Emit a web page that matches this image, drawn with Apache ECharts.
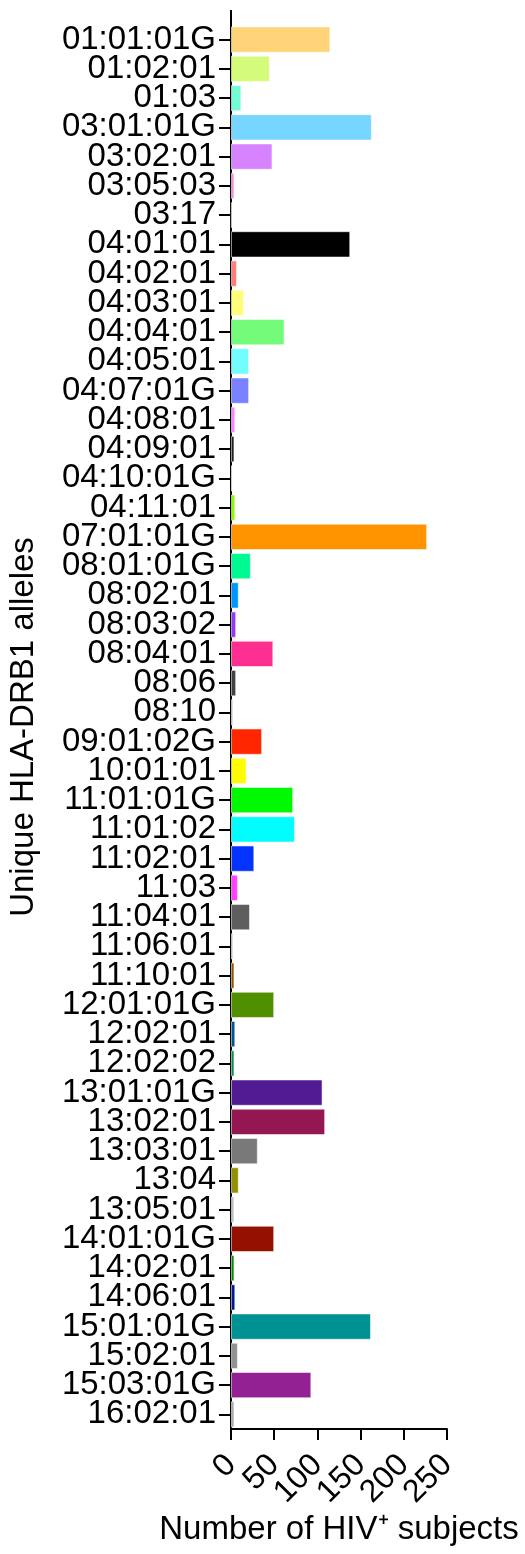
<!DOCTYPE html>
<html>
<head>
<meta charset="utf-8">
<script src="https://cdn.jsdelivr.net/npm/echarts@6/dist/echarts.min.js"></script>
<style>
  html, body { margin: 0; padding: 0; background: #fff; }
  #chart { width: 525px; height: 1554px; }
</style>
</head>
<body>
<div id="chart"></div>
<script>
// HLA-DRB1 alleles found among HIV+ subjects
const alleles = [
  '01:01:01G', '01:02:01', '01:03', '03:01:01G', '03:02:01', '03:05:03', '03:17',
  '04:01:01', '04:02:01', '04:03:01', '04:04:01', '04:05:01', '04:07:01G', '04:08:01',
  '04:09:01', '04:10:01G', '04:11:01', '07:01:01G', '08:01:01G', '08:02:01', '08:03:02',
  '08:04:01', '08:06', '08:10', '09:01:02G', '10:01:01', '11:01:01G', '11:01:02',
  '11:02:01', '11:03', '11:04:01', '11:06:01', '11:10:01', '12:01:01G', '12:02:01',
  '12:02:02', '13:01:01G', '13:02:01', '13:03:01', '13:04', '13:05:01', '14:01:01G',
  '14:02:01', '14:06:01', '15:01:01G', '15:02:01', '15:03:01G', '16:02:01'
];

// Number of subjects carrying each allele
const subjects = [
  115, 45, 12, 163, 48, 4, 1,
  138, 7, 15, 62, 21, 21, 5,
  4, 2, 5, 227, 23, 9, 6,
  49, 6, 3, 36, 18, 72, 74,
  27, 8, 22, 3, 4, 50, 5,
  4, 106, 109, 31, 9, 4, 50,
  4, 5, 162, 8, 93, 4
];

// One fill colour per allele
const barColors = [
  '#FFD479', '#D4FB79', '#73FCD6', '#76D6FF', '#D783FF', '#FF8AD8', '#FFFFFF',
  '#000000', '#FF7E79', '#FFFC79', '#73FA79', '#73FDFF', '#7A81FF', '#FF85FF',
  '#212121', '#EBEBEB', '#8EFA00', '#FF9300', '#00FA92', '#0096FF', '#9437FF',
  '#FF2F92', '#424242', '#D6D6D6', '#FF2600', '#FFFB00', '#00F900', '#00FDFF',
  '#0433FF', '#FF40FF', '#5E5E5E', '#D6D6D6', '#945200', '#4F8F00', '#005493',
  '#009051', '#531B93', '#941751', '#797979', '#929000', '#C0C0C0', '#941100',
  '#008F00', '#011993', '#009193', '#929292', '#942193', '#A9A9A9'
];

// Tick values of the count axis
const xTicks = [0, 50, 100, 150, 200, 250];

const FONT = '"Liberation Sans", Arial, Helvetica, sans-serif';
const GRID = { left: 231, right: 78, top: 25, bottom: 125 };
const TICK_LABEL_GAP = 31;

const chart = echarts.init(document.getElementById('chart'), null, { renderer: 'canvas' });

chart.setOption({
  animation: false,
  backgroundColor: '#ffffff',
  grid: Object.assign({ containLabel: false, outerBoundsMode: 'none' }, GRID),
  xAxis: {
    type: 'value',
    min: xTicks[0],
    max: xTicks[xTicks.length - 1],
    interval: xTicks[1] - xTicks[0],
    name: 'Number of HIV⁺ subjects',
    nameLocation: 'middle',
    nameGap: 84,
    nameMoveOverlap: false,
    nameTextStyle: { fontFamily: FONT, fontSize: 33, color: '#000' },
    axisLine: { show: true, lineStyle: { color: '#000', width: 2 } },
    axisTick: { show: true, length: 11, lineStyle: { color: '#000', width: 2 } },
    // tick labels are drawn below as rotated text so that none get dropped
    axisLabel: { show: false },
    splitLine: { show: false }
  },
  yAxis: {
    type: 'category',
    data: alleles,
    inverse: true,
    name: 'Unique HLA-DRB1 alleles',
    nameLocation: 'middle',
    nameGap: 191,
    nameMoveOverlap: false,
    nameTextStyle: { fontFamily: FONT, fontSize: 33, color: '#000' },
    axisLine: { show: true, lineStyle: { color: '#000', width: 2 } },
    axisTick: { show: true, alignWithLabel: true, length: 12, lineStyle: { color: '#000', width: 2 } },
    axisLabel: {
      interval: 0,
      margin: 15,
      hideOverlap: false,
      fontFamily: FONT,
      fontSize: 33,
      color: '#000'
    },
    splitLine: { show: false }
  },
  series: [{
    type: 'bar',
    barCategoryGap: '10%',
    data: subjects.map((v, i) => ({
      value: v,
      itemStyle: {
        color: barColors[i],
        borderColor: 'rgba(255,255,255,0.55)',
        borderWidth: 1
      }
    }))
  }]
});

// Rotated tick labels placed through the x axis scale, plus a short
// extension of the vertical axis line above the first category.
const axisY = chart.getHeight() - GRID.bottom;
const tickLabels = xTicks.map(v => ({
  type: 'text',
  x: chart.convertToPixel({ xAxisIndex: 0 }, v),
  y: axisY + TICK_LABEL_GAP,
  rotation: Math.PI / 4,
  style: {
    text: String(v),
    font: '32px ' + FONT,
    fill: '#000',
    align: 'right',
    verticalAlign: 'middle'
  },
  silent: true
}));

chart.setOption({
  graphic: [{
    type: 'line',
    shape: { x1: GRID.left, y1: 10, x2: GRID.left, y2: GRID.top + 1 },
    style: { stroke: '#000', lineWidth: 2 },
    z: 10
  }].concat(tickLabels)
});
</script>
</body>
</html>
